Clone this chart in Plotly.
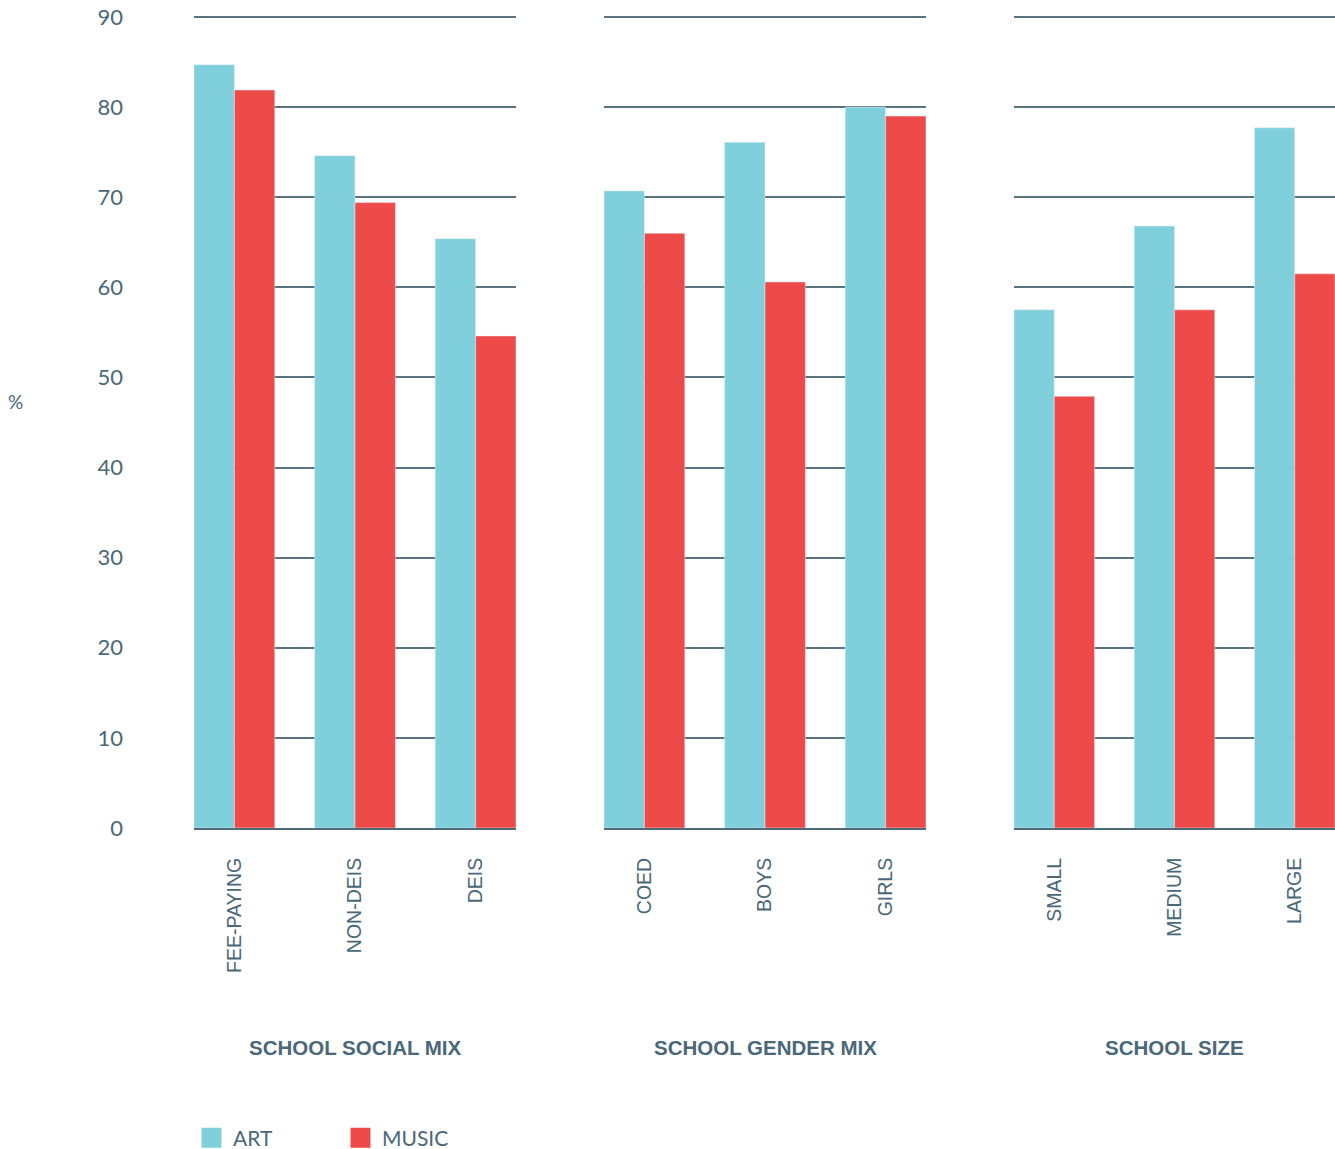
import plotly.graph_objects as go

# ---- data ----
groups = ["SCHOOL SOCIAL MIX", "SCHOOL GENDER MIX", "SCHOOL SIZE"]
categories = [
    ["FEE-PAYING", "NON-DEIS", "DEIS"],
    ["COED", "BOYS", "GIRLS"],
    ["SMALL", "MEDIUM", "LARGE"],
]
art = [
    [84.7, 74.6, 65.4],
    [70.7, 76.1, 80.0],
    [57.5, 66.8, 77.7],
]
music = [
    [81.9, 69.4, 54.6],
    [66.0, 60.6, 79.0],
    [47.9, 57.5, 61.5],
]
y_ticks = [0, 10, 20, 30, 40, 50, 60, 70, 80, 90]

ART_COLOR = "#7fd0dc"
MUSIC_COLOR = "#ef4a4a"
TEXT = "#4a6877"
GRID = "#587280"

W, H = 1335, 1149
L, R, T, B = 194, 0, 14, H - 828
pw = W - L - R
ph = H - T - B
Y_TOP = 90.33

panel_px = [(194, 516), (604, 926), (1014, 1335)]
domains = [((a - L) / pw, min(1.0, (b - L) / pw)) for a, b in panel_px]

def py(page_y):
    return (828 - page_y) / ph

def px(page_x):
    return (page_x - L) / pw

fig = go.Figure()
for i in range(3):
    xa = "x" if i == 0 else f"x{i+1}"
    ya = "y" if i == 0 else f"y{i+1}"
    fig.add_trace(go.Bar(x=categories[i], y=art[i], marker_color=ART_COLOR,
                         xaxis=xa, yaxis=ya, showlegend=False, name="ART"))
    fig.add_trace(go.Bar(x=categories[i], y=music[i], marker_color=MUSIC_COLOR,
                         xaxis=xa, yaxis=ya, showlegend=False, name="MUSIC"))

# legend entries
fig.add_trace(go.Scatter(x=[None], y=[None], mode="markers", name="ART",
                         marker=dict(symbol="square", size=16, color=ART_COLOR,
                                     line=dict(width=4, color=ART_COLOR))))
fig.add_trace(go.Scatter(x=[None], y=[None], mode="markers", name="MUSIC",
                         marker=dict(symbol="square", size=16, color=MUSIC_COLOR,
                                     line=dict(width=4, color=MUSIC_COLOR))))

layout = dict(
    width=W, height=H,
    margin=dict(l=L, r=R, t=T, b=B, autoexpand=False),
    plot_bgcolor="white", paper_bgcolor="white",
    barmode="group", bargap=0.33, bargroupgap=0,
    font=dict(family="Lato", color=TEXT),
    showlegend=True,
    legend=dict(orientation="h", x=px(190), y=py(1138), xanchor="left", yanchor="middle",
                entrywidth=101, entrywidthmode="pixels", itemwidth=33,
                font=dict(size=21, color=TEXT, family="Lato"),
                itemsizing="trace"),
)
for i in range(3):
    xk = "xaxis" if i == 0 else f"xaxis{i+1}"
    yk = "yaxis" if i == 0 else f"yaxis{i+1}"
    layout[xk] = dict(
        domain=list(domains[i]), anchor="y" if i == 0 else f"y{i+1}",
        range=[-0.335, 2.335],
        tickangle=-90, tickfont=dict(size=19.5, family="Liberation Sans", color=TEXT),
        showline=True, linecolor="#4e6a78", linewidth=2,
        showgrid=False, ticks="", ticklabelstandoff=20, fixedrange=True,
    )
    layout[yk] = dict(
        domain=[0, 1], anchor="x" if i == 0 else f"x{i+1}",
        range=[0, Y_TOP], tickvals=y_ticks,
        showticklabels=(i == 0),
        tickfont=dict(size=22, family="Lato", color=TEXT),
        ticklabelstandoff=70, ticklabeloverflow="allow",
        showgrid=True, gridcolor=GRID, gridwidth=1.5,
        zeroline=False, showline=False, ticks="",
        matches=None if i == 0 else "y",
    )
fig.update_layout(**layout)

annotations = []
for i, g in enumerate(groups):
    cx = (domains[i][0] + domains[i][1]) / 2
    annotations.append(dict(text=f"<b>{g}</b>", x=cx, y=py(1047), xref="paper", yref="paper",
                            showarrow=False, xanchor="center", yanchor="middle",
                            font=dict(size=20.5, family="Liberation Sans", color=TEXT)))
annotations.append(dict(text="%", x=px(15), y=py(402), xref="paper", yref="paper",
                        showarrow=False, xanchor="center", yanchor="middle",
                        font=dict(size=19, family="Lato", color=TEXT)))
fig.update_layout(annotations=annotations)

fig.write_html("out.html", config={"displayModeBar": False},
               post_script="document.body.style.margin='0';")
